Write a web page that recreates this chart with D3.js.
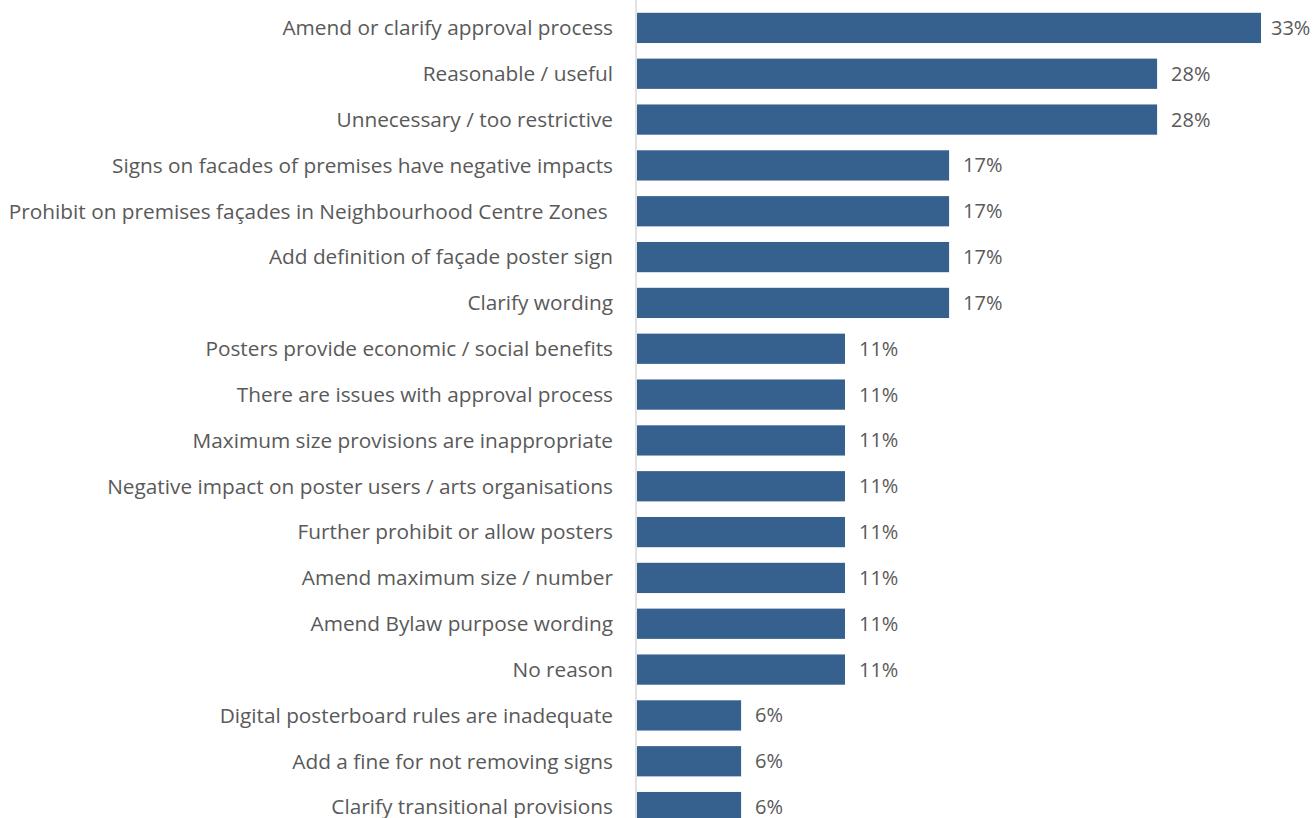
<!DOCTYPE html>
<html>
<head>
<meta charset="utf-8">
<script src="https://cdn.jsdelivr.net/npm/d3@7"></script>
<style>
  body { margin: 0; background: #fff; overflow: hidden; }
  text { font-family: "Open Sans", sans-serif; fill: #595959; }
</style>
</head>
<body>
<div id="chart"></div>
<script>
// Data (share of 18 submissions)
const categories = [
  "Amend or clarify approval process",
  "Reasonable / useful",
  "Unnecessary / too restrictive",
  "Signs on facades of premises have negative impacts",
  "Prohibit on premises façades in Neighbourhood Centre Zones ",
  "Add definition of façade poster sign",
  "Clarify wording",
  "Posters provide economic / social benefits",
  "There are issues with approval process",
  "Maximum size provisions are inappropriate",
  "Negative impact on poster users / arts organisations",
  "Further prohibit or allow posters",
  "Amend maximum size / number",
  "Amend Bylaw purpose wording",
  "No reason",
  "Digital posterboard rules are inadequate",
  "Add a fine for not removing signs",
  "Clarify transitional provisions"
];
const values = [
  0.3333, 0.2778, 0.2778, 0.1667, 0.1667, 0.1667, 0.1667,
  0.1111, 0.1111, 0.1111, 0.1111, 0.1111, 0.1111, 0.1111, 0.1111,
  0.0556, 0.0556, 0.0556
];

const data = categories.map((c, i) => ({ name: c, value: values[i] }));

// Sizes
const WIDTH = 1315;
const HEIGHT = 818;
const AXIS_X = 636;

const svg = d3
  .select("#chart")
  .append("svg")
  .attr("width", WIDTH)
  .attr("height", HEIGHT);

// Scales
const x = d3.scaleLinear().domain([0, 0.3333]).range([AXIS_X + 1, 1261]);
const y = d3
  .scaleBand()
  .domain(categories)
  .range([5, 830])
  .paddingInner(0.34)
  .paddingOuter(0.17);

// Bars
svg
  .selectAll(".bar")
  .data(data)
  .enter()
  .append("rect")
  .attr("class", "bar")
  .attr("x", x(0))
  .attr("y", (d) => y(d.name))
  .attr("width", (d) => x(d.value) - x(0))
  .attr("height", y.bandwidth())
  .attr("fill", "#36618f");

// Axis line
svg
  .append("line")
  .attr("x1", AXIS_X)
  .attr("x2", AXIS_X)
  .attr("y1", 0)
  .attr("y2", HEIGHT)
  .attr("stroke", "#d9d9d9")
  .attr("stroke-width", 1.5);

// Category labels
svg
  .selectAll(".cat")
  .data(data)
  .enter()
  .append("text")
  .attr("class", "cat")
  .attr("x", 613)
  .attr("y", (d) => y(d.name) + y.bandwidth() / 2)
  .attr("dy", "0.35em")
  .attr("text-anchor", "end")
  .style("font-size", "20.8px")
  .style("white-space", "pre")
  .text((d) => d.name);

// Value labels
svg
  .selectAll(".val")
  .data(data)
  .enter()
  .append("text")
  .attr("class", "val")
  .attr("x", (d) => Math.min(x(d.value) + 14, 1271))
  .attr("y", (d) => y(d.name) + y.bandwidth() / 2)
  .attr("dy", "0.35em")
  .style("font-size", "20px")
  .text((d) => Math.round(d.value * 100) + "%");
</script>
</body>
</html>
